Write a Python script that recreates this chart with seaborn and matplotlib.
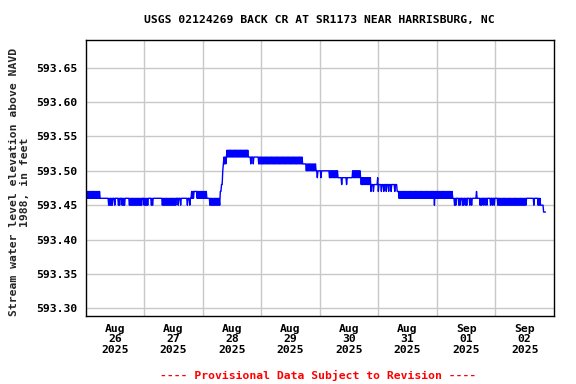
import numpy as np
import pandas as pd
import matplotlib
matplotlib.use("Agg")
import matplotlib.pyplot as plt
import seaborn as sns

# ---------------- data ----------------
TITLE = "USGS 02124269 BACK CR AT SR1173 NEAR HARRISBURG, NC"
Y_LABEL = "Stream water level elevation above NAVD\n1988, in feet"
FOOTER = "---- Provisional Data Subject to Revision ----"

START = "2025-08-26 00:00"
STEP_HOURS = 0.25          # 15-minute readings
END_HOURS = 188.5
BASE_LEVEL = 593.40        # readings are in hundredths of a foot above this

# (start hour, end hour, repeating readings in hundredths above BASE_LEVEL)
RUNS = [
    (0.0, 6.0, [6, 7]),
    (6.0, 9.25, [6]),
    (9.25, 11.25, [5, 6]),
    (11.25, 13.25, [6]),
    (13.25, 14.5, [5, 6]),
    (14.5, 15.0, [6]),
    (15.0, 16.25, [5, 6]),
    (16.25, 17.75, [6]),
    (17.75, 23.25, [5, 6]),
    (23.25, 23.75, [6]),
    (23.75, 26.0, [5, 6]),
    (26.0, 26.75, [6]),
    (26.75, 28.0, [5, 6]),
    (28.0, 31.25, [6]),
    (31.25, 37.5, [5, 6]),
    (37.5, 43.25, [6]),
    (43.25, 44.5, [7, 6]),
    (44.5, 45.5, [7]),
    (45.5, 50.0, [7, 6]),
    (50.0, 51.0, [6]),
    (51.0, 55.25, [5, 6]),
    (55.25, 55.75, [7]),
    (55.75, 56.25, [8]),
    (56.25, 56.5, [10]),
    (56.5, 57.75, [11, 12]),
    (57.75, 66.75, [13, 12]),
    (66.75, 70.75, [12]),
    (70.75, 89.0, [11, 12]),
    (89.0, 90.5, [11]),
    (90.5, 94.5, [10, 11]),
    (94.5, 100.0, [10]),
    (100.0, 103.5, [9, 10]),
    (103.5, 109.5, [9]),
    (109.5, 113.0, [10, 9]),
    (113.0, 117.0, [8, 9]),
    (117.0, 127.75, [8]),
    (127.75, 128.25, [7]),
    (128.25, 150.75, [6, 7]),
    (150.75, 168.75, [6]),
    (168.75, 180.75, [5, 6]),
    (180.75, 186.5, [6]),
    (186.5, 187.75, [5]),
    (187.75, 188.75, [4]),
]

# single readings that break from the surrounding run (hour, hundredths)
SPIKES = [
    (12.0, 5), (38.0, 5), (39.0, 5), (41.75, 5), (42.75, 5),
    (67.75, 11), (68.75, 11),
    (95.0, 9), (96.5, 9),
    (105.0, 8), (107.0, 8),
    (117.0, 7), (118.0, 7), (119.75, 9), (120.0, 7), (121.25, 7),
    (122.25, 7), (123.25, 7), (124.25, 7), (125.25, 7), (126.75, 7),
    (143.0, 5),
    (151.25, 5), (151.75, 5), (153.0, 5), (153.5, 5), (154.5, 5),
    (155.0, 5), (155.75, 5), (156.25, 5), (157.5, 5), (158.25, 5),
    (160.25, 7),
    (161.75, 5), (162.25, 5), (163.0, 5), (163.75, 5), (164.5, 5),
    (166.0, 5), (166.75, 5), (167.5, 5),
    (183.75, 5), (185.5, 5), (186.0, 5),
]

Y_TICKS = [593.30, 593.35, 593.40, 593.45, 593.50, 593.55, 593.60, 593.65]
X_TICK_DAYS = ["2025-08-26", "2025-08-27", "2025-08-28", "2025-08-29",
               "2025-08-30", "2025-08-31", "2025-09-01", "2025-09-02"]
X_TICK_LABELS = ["Aug\n26\n2025", "Aug\n27\n2025", "Aug\n28\n2025", "Aug\n29\n2025",
                 "Aug\n30\n2025", "Aug\n31\n2025", "Sep\n01\n2025", "Sep\n02\n2025"]
X_RANGE = ("2025-08-26 00:00", "2025-09-03 00:00")
Y_RANGE = (593.2888, 593.691)

# ---------------- build the series ----------------
hours = np.arange(0, END_HOURS + 1e-9, STEP_HOURS)
vals = np.zeros(len(hours))
for i, h in enumerate(hours):
    for s, e, pat in RUNS:
        if s <= h < e:
            vals[i] = pat[i % len(pat)]
            break
for h, v in SPIKES:
    idx = int(round(h / STEP_HOURS))
    if 0 <= idx < len(vals):
        vals[idx] = v

df = pd.DataFrame({
    "time": pd.Timestamp(START) + pd.to_timedelta(hours, unit="h"),
    "level": BASE_LEVEL + vals / 100.0,
})

# ---------------- plot ----------------
sns.set_theme(style="white")
plt.rcParams["font.family"] = ["DejaVu Sans Mono"]
plt.rcParams["font.weight"] = "bold"
FS = 8.2

fig = plt.figure(figsize=(5.76, 3.84), dpi=100)
ax = fig.add_axes([85.5 / 576, 1 - 316 / 384, (554 - 85.5) / 576, (316 - 39.5) / 384])

sns.lineplot(data=df, x="time", y="level", ax=ax, color="#0000ff",
             linewidth=1.0, sort=False, estimator=None)

ax.set_xlim(pd.Timestamp(X_RANGE[0]), pd.Timestamp(X_RANGE[1]))
ax.set_ylim(*Y_RANGE)

ax.set_yticks(Y_TICKS, labels=[f"{v:.2f}" for v in Y_TICKS])
noon = [pd.Timestamp(d) + pd.Timedelta(hours=12) for d in X_TICK_DAYS]
midnight = [pd.Timestamp(d) for d in X_TICK_DAYS[1:]]
ax.set_xticks(noon, labels=X_TICK_LABELS)
ax.set_xticks(midnight, minor=True)

ax.grid(False)
ax.grid(which="minor", axis="x", color="#c8c8c8", linewidth=1.0)
ax.grid(which="major", axis="y", color="#c8c8c8", linewidth=1.0)
ax.set_axisbelow(True)

ax.tick_params(axis="both", which="both", length=0, labelsize=FS, colors="black")
ax.tick_params(axis="x", pad=5.5)
ax.tick_params(axis="y", pad=5.8)
for lbl in ax.get_xticklabels():
    lbl.set_linespacing(1.1)
    lbl.set_fontweight("bold")
for lbl in ax.get_yticklabels():
    lbl.set_fontweight("bold")

for sp in ax.spines.values():
    sp.set_visible(True)
    sp.set_color("black")
    sp.set_linewidth(1.0)

ax.set_xlabel("")
ax.set_ylabel(Y_LABEL, fontsize=FS, fontweight="bold", linespacing=1.15,
              labelpad=4.5, y=0.485)

fig.text((85.5 + 554) / 2 / 576, 1 - 20 / 384, TITLE, ha="center", va="center",
         fontsize=FS, fontweight="bold", color="black")
fig.text(318 / 576, 1 - 375 / 384, FOOTER, ha="center", va="center",
         fontsize=FS, fontweight="bold", color="red")

fig.savefig("out.png", dpi=100, facecolor="white")
